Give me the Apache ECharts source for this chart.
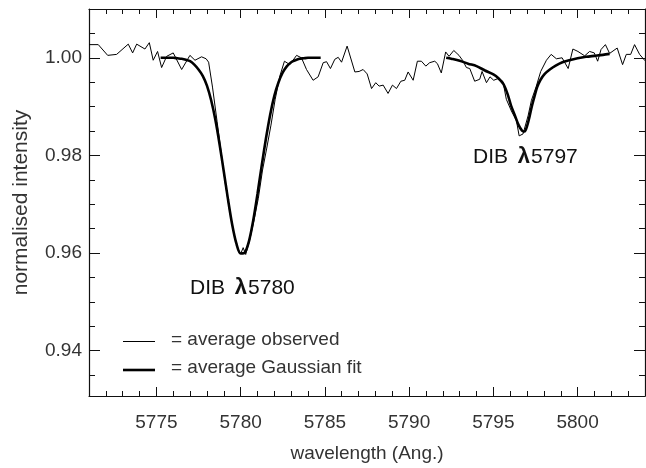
<!DOCTYPE html>
<html>
<head>
<meta charset="utf-8">
<script src="https://cdn.jsdelivr.net/npm/echarts@6/dist/echarts.min.js"></script>
<style>
html,body{margin:0;padding:0;background:#fff;}
#chart{width:646px;height:468px;}
</style>
</head>
<body>
<div id="chart"></div>
<script>
// ---- data ----
const obsWave = [5771.00,5771.55,5772.11,5772.64,5773.33,5773.59,5773.83,5774.32,5774.58,5774.81,
  5775.07,5775.31,5775.61,5776.00,5776.50,5776.99,5777.29,5777.68,5777.95,5778.10,
  5778.33,5778.60,5778.85,5779.10,5779.35,5779.60,5779.85,5780.00,5780.15,5780.30,
  5780.55,5780.80,5781.05,5781.30,5781.55,5781.80,5782.05,5782.33,5782.60,5782.92,
  5783.32,5783.61,5783.91,5784.30,5784.60,5784.90,5785.10,5785.33,5785.59,5785.79,
  5785.99,5786.32,5786.78,5787.03,5787.27,5787.51,5787.77,5788.02,5788.22,5788.46,
  5788.75,5789.01,5789.25,5789.51,5789.74,5789.94,5790.24,5790.49,5790.73,5790.99,
  5791.22,5791.52,5791.68,5791.91,5792.17,5792.37,5792.65,5792.96,5793.19,5793.40,
  5793.60,5793.89,5794.19,5794.33,5794.59,5794.80,5795.02,5795.32,5795.57,5795.77,
  5796.07,5796.37,5796.53,5796.76,5797.06,5797.26,5797.55,5797.81,5798.15,5798.43,
  5798.74,5799.08,5799.44,5799.72,5800.02,5800.42,5800.71,5800.99,5801.19,5801.39,
  5801.65,5801.90,5802.35,5802.67,5802.89,5803.15,5803.38,5803.68,5804.00];
const obsFlux = [1.0027,1.0027,1.0005,1.0007,1.0028,1.0010,1.0028,1.0018,1.0031,0.9995,
  1.0013,0.9980,1.0003,1.0010,0.9976,1.0005,0.9995,1.0002,0.9998,0.9991,
  0.9940,0.9870,0.9805,0.9740,0.9686,0.9640,0.9608,0.9598,0.9611,0.9597,
  0.9628,0.9668,0.9712,0.9770,0.9815,0.9862,0.9915,0.9963,0.9993,0.9986,
  1.0005,1.0000,0.9976,0.9954,0.9961,0.9990,0.9992,0.9978,0.9997,1.0001,
  0.9991,1.0024,0.9971,0.9972,0.9976,0.9967,0.9937,0.9949,0.9942,0.9944,
  0.9927,0.9944,0.9937,0.9952,0.9954,0.9971,0.9954,0.9993,0.9993,0.9983,
  0.9990,0.9993,0.9988,0.9969,1.0012,1.0003,1.0015,1.0005,0.9994,0.9980,
  0.9978,0.9952,0.9956,0.9972,0.9949,0.9961,0.9954,0.9958,0.9951,0.9915,
  0.9891,0.9871,0.9840,0.9844,0.9881,0.9913,0.9942,0.9972,0.9995,1.0007,
  0.9998,1.0000,0.9978,1.0018,1.0013,1.0004,1.0013,1.0010,0.9993,1.0017,
  1.0027,1.0009,1.0020,0.9986,1.0007,1.0007,1.0027,1.0007,0.9994];

const fit1Wave = [5775.25,5775.5,5775.75,5776.0,5776.25,5776.5,5776.75,5777.0,5777.25,5777.5,
  5777.75,5778.0,5778.25,5778.5,5778.75,5779.0,5779.25,5779.5,5779.75,5780.0,
  5780.25,5780.5,5780.75,5781.0,5781.25,5781.5,5781.75,5782.0,5782.25,5782.5,
  5782.75,5783.0,5783.25,5783.5,5783.75,5784.0,5784.25,5784.5,5784.75];
const fit1Flux = [1.0000,1.0000,1.0000,1.0000,0.9999,0.9998,0.9996,0.9993,0.9986,0.9976,
  0.9963,0.9943,0.9913,0.9873,0.9823,0.9767,0.9710,0.9658,0.9619,0.9599,
  0.9601,0.9625,0.9667,0.9721,0.9779,0.9834,0.9883,0.9922,0.9950,0.9970,
  0.9983,0.9991,0.9995,0.9998,0.9999,1.0000,1.0000,1.0000,1.0000];

const fit2Wave = [5792.2,5792.5,5793.0,5793.5,5794.0,5794.5,5795.0,5795.3,5795.6,5795.85,
  5796.05,5796.3,5796.5,5796.7,5796.85,5797.0,5797.15,5797.3,5797.45,5797.6,
  5797.8,5798.05,5798.35,5798.7,5799.1,5799.5,5800.0,5800.5,5801.0,5801.5,5801.9];
const fit2Flux = [1.0000,0.9998,0.9994,0.9988,0.9983,0.9974,0.9966,0.9958,0.9946,0.9925,
  0.9902,0.9880,0.9862,0.9851,0.9849,0.9860,0.9880,0.9903,0.9922,0.9940,
  0.9955,0.9967,0.9976,0.9984,0.9991,0.9995,0.9999,1.0002,1.0004,1.0006,1.0008];

const xTickLabels = [5775, 5780, 5785, 5790, 5795, 5800];
const yTickLabels = [0.94, 0.96, 0.98, 1.00];
const xRange = [5771, 5804];
const yRange = [0.9307, 1.01];

const FONT = '"Liberation Sans", Arial, Helvetica, sans-serif';
const TXT = '#333';

function pairs(w, f) { return w.map((v, i) => [v, f[i]]); }

const chart = echarts.init(document.getElementById('chart'), null, {renderer: 'canvas'});

function xAxisDef(pos, withLabels) {
  return {
    type: 'value', position: pos, min: xRange[0], max: xRange[1],
    name: withLabels ? 'wavelength (Ang.)' : '',
    nameLocation: 'middle', nameGap: 48,
    nameTextStyle: {fontSize: 19, color: TXT, fontFamily: FONT},
    axisLine: {show: true, onZero: false, lineStyle: {color: '#111', width: 1.2}},
    axisTick: {show: true, inside: true, length: 9, lineStyle: {color: '#111', width: 1}},
    minorTick: {show: true, splitNumber: 5, length: 5, lineStyle: {color: '#111', width: 1}},
    splitLine: {show: false},
    axisLabel: {
      show: withLabels, showMinLabel: false, showMaxLabel: false, margin: 17,
      fontSize: 19, color: TXT, fontFamily: FONT,
      formatter: v => xTickLabels.includes(Math.round(v * 1000) / 1000) ? String(v) : ''
    }
  };
}
function yAxisDef(pos, withLabels) {
  return {
    type: 'value', position: pos, min: yRange[0], max: yRange[1],
    name: withLabels ? 'normalised intensity' : '',
    nameLocation: 'middle', nameGap: 57,
    nameTextStyle: {fontSize: 21, color: TXT, fontFamily: FONT},
    axisLine: {show: true, onZero: false, lineStyle: {color: '#111', width: 1.2}},
    axisTick: {show: true, inside: true, length: 11, lineStyle: {color: '#111', width: 1}},
    minorTick: {show: true, splitNumber: 4, length: 6, lineStyle: {color: '#111', width: 1}},
    splitLine: {show: false},
    axisLabel: {
      show: withLabels, showMinLabel: false, showMaxLabel: false, margin: 7,
      fontSize: 19, color: TXT, fontFamily: FONT,
      formatter: v => {
        const r = Math.round(v * 1000) / 1000;
        return yTickLabels.some(t => Math.abs(t - r) < 1e-6) ? r.toFixed(2) : '';
      }
    }
  };
}

const option = {
  animation: false,
  backgroundColor: '#fff',
  grid: {left: 89, right: 1, top: 9, bottom: 68, containLabel: false},
  xAxis: [xAxisDef('bottom', true), xAxisDef('top', false)],
  yAxis: [yAxisDef('left', true), yAxisDef('right', false)],
  series: [
    {type: 'line', name: 'average observed', data: pairs(obsWave, obsFlux),
     showSymbol: false, symbol: 'none', lineStyle: {color: '#000', width: 1}, z: 2},
    {type: 'line', name: 'fit 5780', data: pairs(fit1Wave, fit1Flux), smooth: 0.3,
     showSymbol: false, symbol: 'none', lineStyle: {color: '#000', width: 2.6}, z: 3},
    {type: 'line', name: 'fit 5797', data: pairs(fit2Wave, fit2Flux), smooth: 0.3,
     showSymbol: false, symbol: 'none', lineStyle: {color: '#000', width: 2.6}, z: 3}
  ],
  graphic: [
    {type: 'text', left: 190, top: 277, style: {
      text: '{n|DIB }{l|λ}{n|5780}', fill: '#111',
      rich: {n: {fontSize: 21, fontFamily: FONT, fill: '#111'}, l: {fontSize: 22, fontWeight: 'bold', fontFamily: FONT, fill: '#111', padding: [0, 1, 0, 4]}}}},
    {type: 'text', left: 473, top: 146, style: {
      text: '{n|DIB }{l|λ}{n|5797}', fill: '#111',
      rich: {n: {fontSize: 21, fontFamily: FONT, fill: '#111'}, l: {fontSize: 22, fontWeight: 'bold', fontFamily: FONT, fill: '#111', padding: [0, 1, 0, 4]}}}},
    {type: 'line', shape: {x1: 123, y1: 341.5, x2: 155, y2: 341.5}, style: {stroke: '#000', lineWidth: 1}},
    {type: 'text', left: 171, top: 330, style: {text: '= average observed', fontSize: 19, fontFamily: FONT, fill: TXT}},
    {type: 'line', shape: {x1: 123, y1: 370, x2: 155, y2: 370}, style: {stroke: '#000', lineWidth: 2.6}},
    {type: 'text', left: 171, top: 358, style: {text: '= average Gaussian fit', fontSize: 19, fontFamily: FONT, fill: TXT}}
  ]
};
chart.setOption(option);
</script>
</body>
</html>
